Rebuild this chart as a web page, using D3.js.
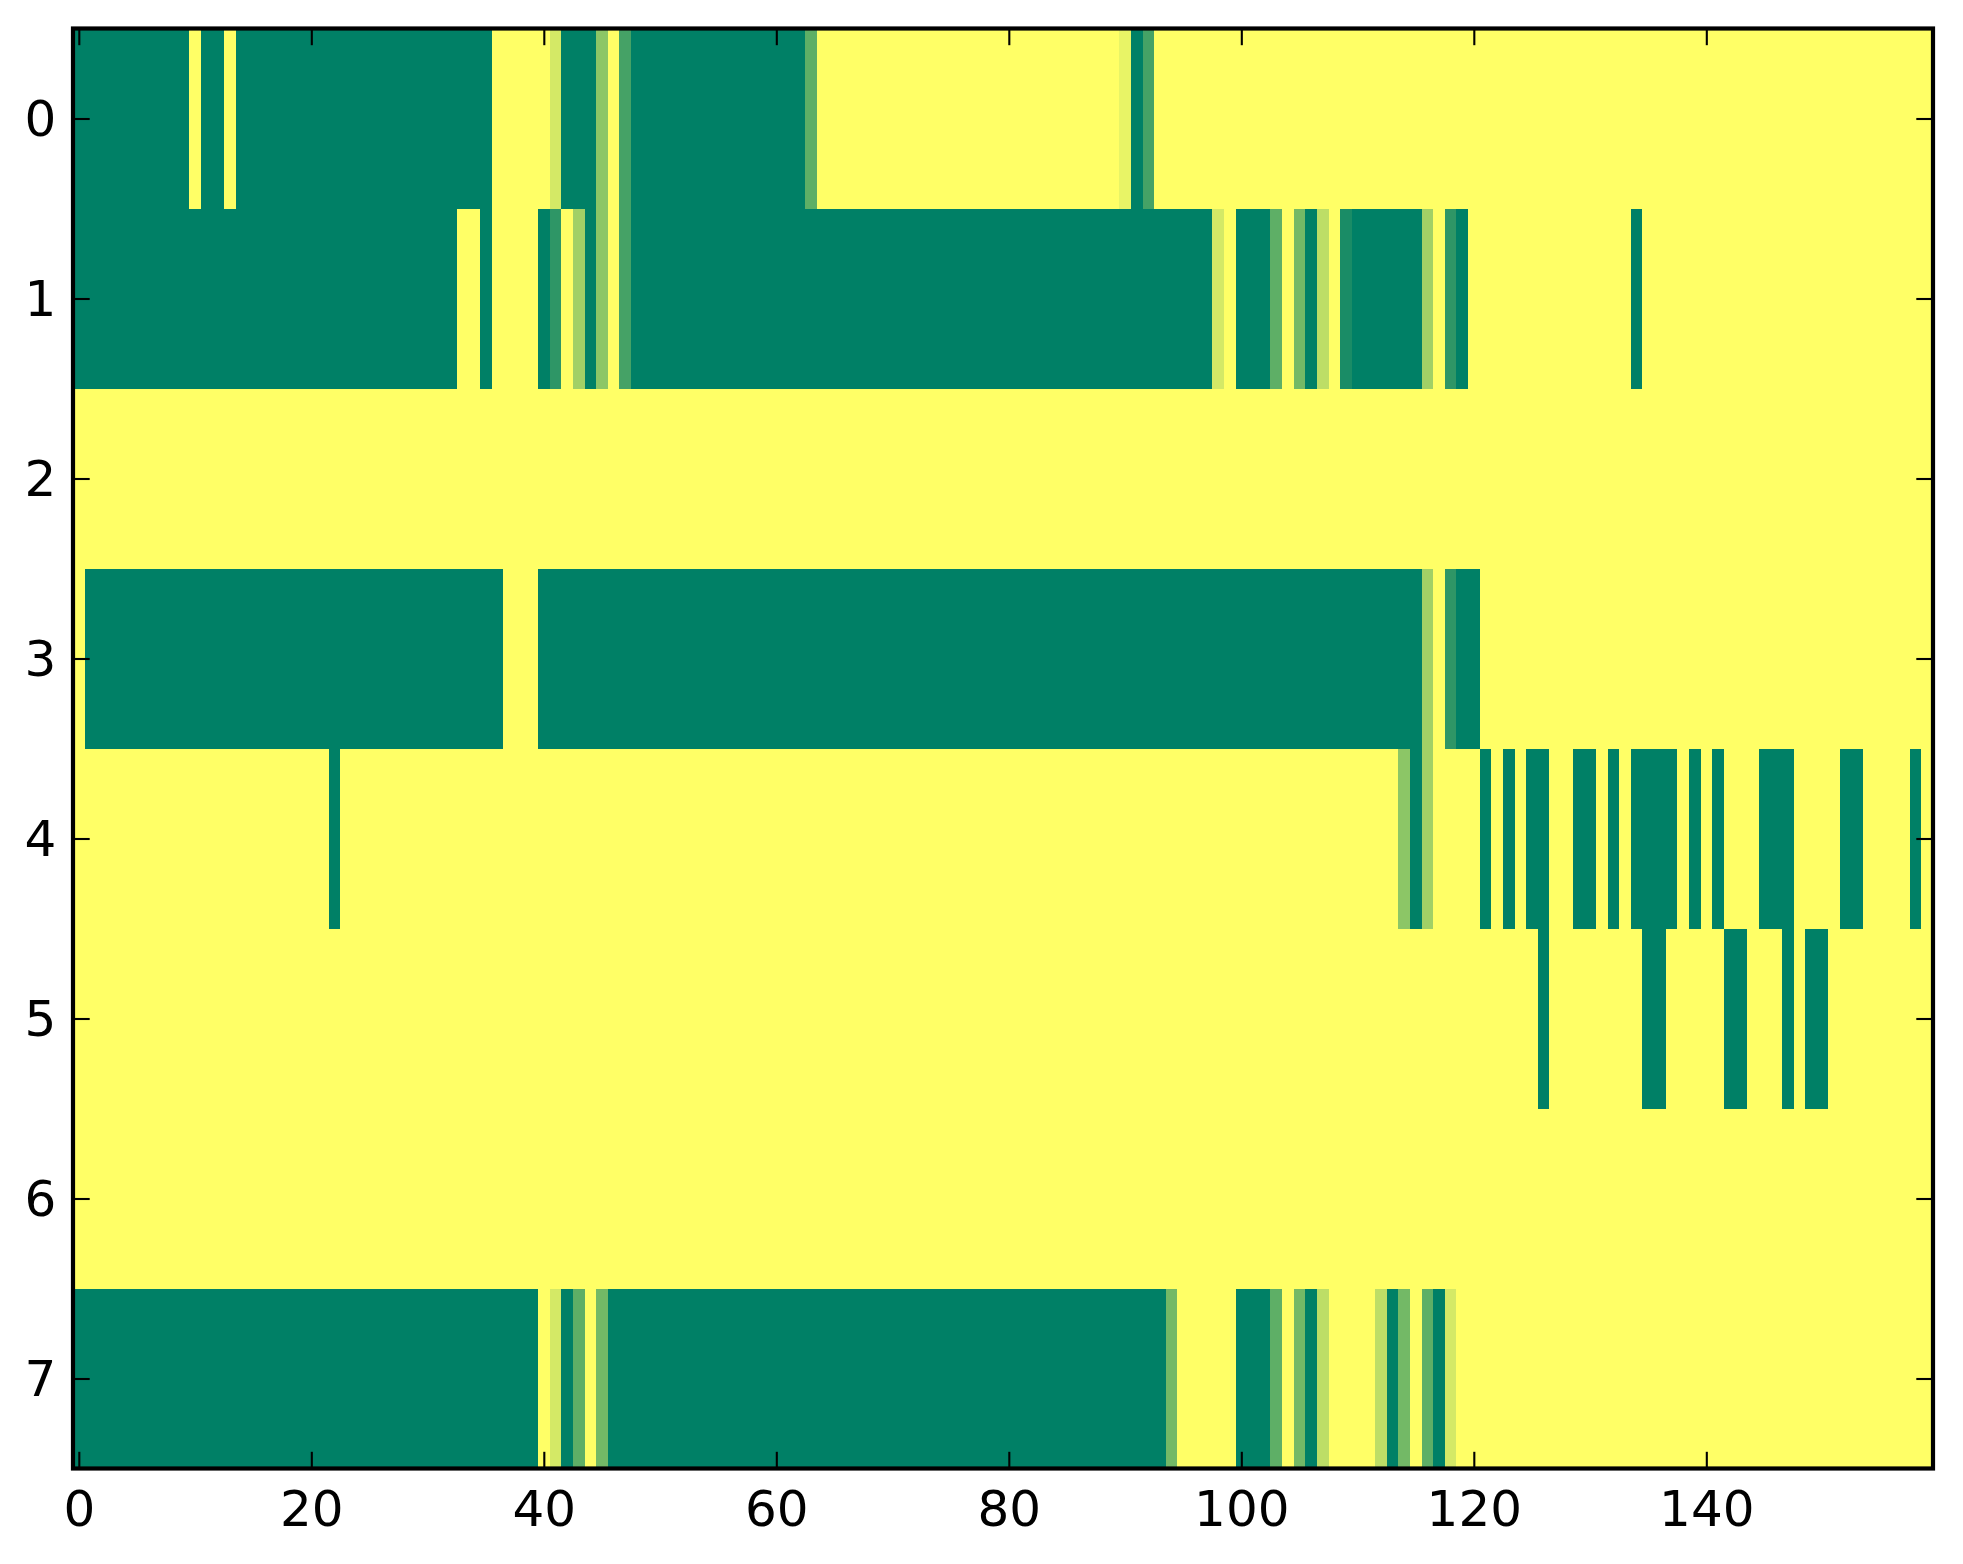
<!DOCTYPE html>
<html>
<head>
<meta charset="utf-8">
<script src="https://cdn.jsdelivr.net/npm/d3@7"></script>
<style>
  body { margin: 0; background: #fff; }
  svg { display: block; }
</style>
</head>
<body>
<svg id="chart"></svg>
<script>
// one array per row of the image (160 columns each), 0 = dark green, 1 = yellow
var row0 = [
  0,0,0,0,0,0,0,0,0,0, 1,0,0,1,0,0,0,0,0,0,
  0,0,0,0,0,0,0,0,0,0, 0,0,0,0,0,0,1,1,1,1,
  1,.83,0,0,0,.55,1,.27,0,0, 0,0,0,0,0,0,0,0,0,0,
  0,0,0,.37,1,1,1,1,1,1, 1,1,1,1,1,1,1,1,1,1,
  1,1,1,1,1,1,1,1,1,1, .91,0,.27,1,1,1,1,1,1,1,
  1,1,1,1,1,1,1,1,1,1, 1,1,1,1,1,1,1,1,1,1,
  1,1,1,1,1,1,1,1,1,1, 1,1,1,1,1,1,1,1,1,1,
  1,1,1,1,1,1,1,1,1,1, 1,1,1,1,1,1,1,1,1,1];
var row1 = [
  0,0,0,0,0,0,0,0,0,0, 0,0,0,0,0,0,0,0,0,0,
  0,0,0,0,0,0,0,0,0,0, 0,0,0,1,1,0,1,1,1,1,
  0,.18,1,.63,0,.55,1,.27,0,0, 0,0,0,0,0,0,0,0,0,0,
  0,0,0,0,0,0,0,0,0,0, 0,0,0,0,0,0,0,0,0,0,
  0,0,0,0,0,0,0,0,0,0, 0,0,0,0,0,0,0,0,.83,1,
  0,0,0,.37,1,.45,0,.74,1,.1, 0,0,0,0,0,0,.63,1,.18,0,
  1,1,1,1,1,1,1,1,1,1, 1,1,1,1,0,1,1,1,1,1,
  1,1,1,1,1,1,1,1,1,1, 1,1,1,1,1,1,1,1,1,1];
var row2 = [
  1,1,1,1,1,1,1,1,1,1, 1,1,1,1,1,1,1,1,1,1,
  1,1,1,1,1,1,1,1,1,1, 1,1,1,1,1,1,1,1,1,1,
  1,1,1,1,1,1,1,1,1,1, 1,1,1,1,1,1,1,1,1,1,
  1,1,1,1,1,1,1,1,1,1, 1,1,1,1,1,1,1,1,1,1,
  1,1,1,1,1,1,1,1,1,1, 1,1,1,1,1,1,1,1,1,1,
  1,1,1,1,1,1,1,1,1,1, 1,1,1,1,1,1,1,1,1,1,
  1,1,1,1,1,1,1,1,1,1, 1,1,1,1,1,1,1,1,1,1,
  1,1,1,1,1,1,1,1,1,1, 1,1,1,1,1,1,1,1,1,1];
var row3 = [
  1,0,0,0,0,0,0,0,0,0, 0,0,0,0,0,0,0,0,0,0,
  0,0,0,0,0,0,0,0,0,0, 0,0,0,0,0,0,0,1,1,1,
  0,0,0,0,0,0,0,0,0,0, 0,0,0,0,0,0,0,0,0,0,
  0,0,0,0,0,0,0,0,0,0, 0,0,0,0,0,0,0,0,0,0,
  0,0,0,0,0,0,0,0,0,0, 0,0,0,0,0,0,0,0,0,0,
  0,0,0,0,0,0,0,0,0,0, 0,0,0,0,0,0,.63,1,.18,0,
  0,1,1,1,1,1,1,1,1,1, 1,1,1,1,1,1,1,1,1,1,
  1,1,1,1,1,1,1,1,1,1, 1,1,1,1,1,1,1,1,1,1];
var row4 = [
  1,1,1,1,1,1,1,1,1,1, 1,1,1,1,1,1,1,1,1,1,
  1,1,0,1,1,1,1,1,1,1, 1,1,1,1,1,1,1,1,1,1,
  1,1,1,1,1,1,1,1,1,1, 1,1,1,1,1,1,1,1,1,1,
  1,1,1,1,1,1,1,1,1,1, 1,1,1,1,1,1,1,1,1,1,
  1,1,1,1,1,1,1,1,1,1, 1,1,1,1,1,1,1,1,1,1,
  1,1,1,1,1,1,1,1,1,1, 1,1,1,1,.55,0,.63,1,1,1,
  1,0,1,0,1,0,0,1,1,0, 0,1,0,1,0,0,0,0,1,0,
  1,0,1,1,1,0,0,0,1,1, 1,1,0,0,1,1,1,1,0,1];
var row5 = [
  1,1,1,1,1,1,1,1,1,1, 1,1,1,1,1,1,1,1,1,1,
  1,1,1,1,1,1,1,1,1,1, 1,1,1,1,1,1,1,1,1,1,
  1,1,1,1,1,1,1,1,1,1, 1,1,1,1,1,1,1,1,1,1,
  1,1,1,1,1,1,1,1,1,1, 1,1,1,1,1,1,1,1,1,1,
  1,1,1,1,1,1,1,1,1,1, 1,1,1,1,1,1,1,1,1,1,
  1,1,1,1,1,1,1,1,1,1, 1,1,1,1,1,1,1,1,1,1,
  1,1,1,1,1,1,0,1,1,1, 1,1,1,1,1,0,0,1,1,1,
  1,1,0,0,1,1,1,0,1,0, 0,1,1,1,1,1,1,1,1,1];
var row6 = [
  1,1,1,1,1,1,1,1,1,1, 1,1,1,1,1,1,1,1,1,1,
  1,1,1,1,1,1,1,1,1,1, 1,1,1,1,1,1,1,1,1,1,
  1,1,1,1,1,1,1,1,1,1, 1,1,1,1,1,1,1,1,1,1,
  1,1,1,1,1,1,1,1,1,1, 1,1,1,1,1,1,1,1,1,1,
  1,1,1,1,1,1,1,1,1,1, 1,1,1,1,1,1,1,1,1,1,
  1,1,1,1,1,1,1,1,1,1, 1,1,1,1,1,1,1,1,1,1,
  1,1,1,1,1,1,1,1,1,1, 1,1,1,1,1,1,1,1,1,1,
  1,1,1,1,1,1,1,1,1,1, 1,1,1,1,1,1,1,1,1,1];
var row7 = [
  0,0,0,0,0,0,0,0,0,0, 0,0,0,0,0,0,0,0,0,0,
  0,0,0,0,0,0,0,0,0,0, 0,0,0,0,0,0,0,0,0,0,
  1,.83,0,.37,1,.45,0,0,0,0, 0,0,0,0,0,0,0,0,0,0,
  0,0,0,0,0,0,0,0,0,0, 0,0,0,0,0,0,0,0,0,0,
  0,0,0,0,0,0,0,0,0,0, 0,0,0,0,.45,1,1,1,1,1,
  0,0,0,.37,1,.45,0,.74,1,1, 1,1,.74,0,.45,1,.37,0,.83,1,
  1,1,1,1,1,1,1,1,1,1, 1,1,1,1,1,1,1,1,1,1,
  1,1,1,1,1,1,1,1,1,1, 1,1,1,1,1,1,1,1,1,1];

var rows = [row0, row1, row2, row3, row4, row5, row6, row7];
var xTicks = [0, 20, 40, 60, 80, 100, 120, 140];
var yTicks = [0, 1, 2, 3, 4, 5, 6, 7];

var W = 1963, H = 1564;
var mLeft = 73, mRight = 1933, mTop = 28.5, mBottom = 1468.5;
var tickLen = 16.7, fontSize = 50;

var svg = d3.select("#chart")
    .attr("width", W)
    .attr("height", H);

var ncol = row0.length, nrow = rows.length;
var x = d3.scaleLinear().domain([-0.5, ncol - 0.5]).range([mLeft, mRight]);
var y = d3.scaleLinear().domain([-0.5, nrow - 0.5]).range([mTop, mBottom]);

// matplotlib "summer" colormap: (v, 0.5 + 0.5v, 0.4)
var summer = d3.scaleLinear()
    .domain([0, 1])
    .range([d3.rgb(0, 127.5, 102), d3.rgb(255, 255, 102)])
    .interpolate(d3.interpolateRgb);

// cells
var cells = [];
rows.forEach(function(r, i){
    r.forEach(function(v, j){ cells.push({row: i, col: j, v: v}); });
});

svg.append("g")
    .attr("shape-rendering", "crispEdges")
  .selectAll("rect")
  .data(cells)
  .enter().append("rect")
    .attr("x", function(d){ return x(d.col - 0.5); })
    .attr("y", function(d){ return y(d.row - 0.5); })
    .attr("width", function(d){ return x(d.col + 0.5) - x(d.col - 0.5) + 0.5; })
    .attr("height", function(d){ return y(d.row + 0.5) - y(d.row - 0.5) + 0.5; })
    .attr("fill", function(d){ return summer(d.v); });

// axes, ticks pointing inside on all four sides
function styleAxis(g){
    g.select(".domain").remove();
    g.selectAll(".tick line").attr("stroke", "#000").attr("stroke-width", 2.1);
    g.selectAll("text")
        .attr("fill", "#000")
        .style("font-family", "'DejaVu Sans', sans-serif")
        .style("font-size", fontSize + "px");
}

var gx = svg.append("g")
    .attr("transform", "translate(0," + mBottom + ")")
    .call(d3.axisBottom(x).tickValues(xTicks).tickSize(-tickLen).tickPadding(0))
    .call(styleAxis);
gx.selectAll("text").attr("dy", null).attr("y", 57.5);

svg.append("g")
    .attr("transform", "translate(0," + mTop + ")")
    .call(d3.axisTop(x).tickValues(xTicks).tickSize(-tickLen).tickFormat(""))
    .call(styleAxis);

var gy = svg.append("g")
    .attr("transform", "translate(" + mLeft + ",0)")
    .call(d3.axisLeft(y).tickValues(yTicks).tickSize(-tickLen).tickPadding(tickLen))
    .call(styleAxis);
gy.selectAll("text").attr("dy", "0.33em");

svg.append("g")
    .attr("transform", "translate(" + mRight + ",0)")
    .call(d3.axisRight(y).tickValues(yTicks).tickSize(-tickLen).tickFormat(""))
    .call(styleAxis);

// frame
svg.append("rect")
    .attr("x", mLeft)
    .attr("y", mTop)
    .attr("width", mRight - mLeft)
    .attr("height", mBottom - mTop)
    .attr("fill", "none")
    .attr("stroke", "#000")
    .attr("stroke-width", 4.2);
</script>
</body>
</html>
